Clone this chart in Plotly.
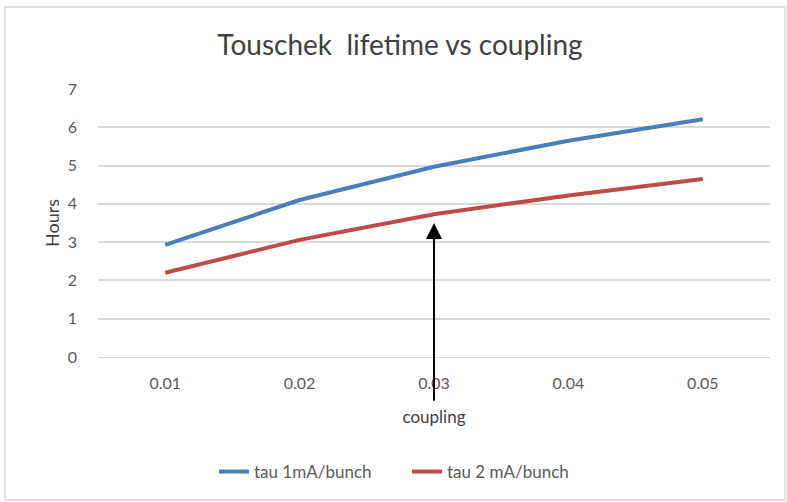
import plotly.graph_objects as go

categories = ["0.01", "0.02", "0.03", "0.04", "0.05"]
tau_1mA = [2.93, 4.10, 4.97, 5.65, 6.21]
tau_2mA = [2.20, 3.06, 3.73, 4.22, 4.65]
y_ticks = [0, 1, 2, 3, 4, 5, 6, 7]

FONT = "Lato, 'Open Sans', sans-serif"
L, R, T, B = 98, 17, 89, 145
W, H = 787, 502
pw, ph = W - L - R, H - T - B

def px_x(p):
    return (p - L) / pw

def px_y(p):
    return (H - B - p) / ph

fig = go.Figure()
fig.add_trace(go.Scatter(x=categories, y=tau_1mA, mode="lines", name="tau 1mA/bunch",
                         line=dict(color="#4a7ebb", width=4)))
fig.add_trace(go.Scatter(x=categories, y=tau_2mA, mode="lines", name="tau 2 mA/bunch",
                         line=dict(color="#be4b48", width=4)))

fig.update_layout(
    width=W, height=H,
    margin=dict(l=L, r=R, t=T, b=B),
    paper_bgcolor="white", plot_bgcolor="white",
    font=dict(family=FONT, color="#595959", size=16),
    title=dict(text="Touschek  lifetime vs coupling", x=px_x(400) * pw / W + L / W,
               xanchor="center", y=1 - 45 / H, yanchor="middle",
               font=dict(family=FONT, size=28, color="#404040")),
    xaxis=dict(type="category", range=[-0.5, 4.5], showgrid=False, showline=True,
               linecolor="#d9d9d9", linewidth=1, ticks="", ticklabelstandoff=12,
               tickfont=dict(size=16),
               title=dict(text="coupling", standoff=19, font=dict(size=17, color="#404040"))),
    yaxis=dict(range=[0, 7], tickvals=y_ticks, showgrid=True, gridcolor="#d9d9d9",
               gridwidth=1.5, zeroline=False, showline=False, ticks="",
               ticklabelstandoff=20, tickfont=dict(size=16),
               title=dict(text="Hours", standoff=3, font=dict(size=18, color="#404040"))),
    legend=dict(orientation="h", x=px_x(214), xanchor="left", y=px_y(472), yanchor="middle",
                font=dict(size=17, color="#595959"), entrywidth=148, entrywidthmode="pixels"),
    showlegend=True,
)

fig.add_annotation(x=2, y=3.5, ax=2, ay=-1.18, axref="x", ayref="y",
                   xref="x", yref="y", text="", showarrow=True, arrowhead=2,
                   arrowsize=1.6, arrowwidth=2, arrowcolor="black")

fig.add_shape(type="rect", xref="paper", yref="paper",
              x0=px_x(5), x1=px_x(785), y0=px_y(500), y1=px_y(7),
              line=dict(color="#d9d9d9", width=1.5), layer="below")

fig.write_html("out.html")
